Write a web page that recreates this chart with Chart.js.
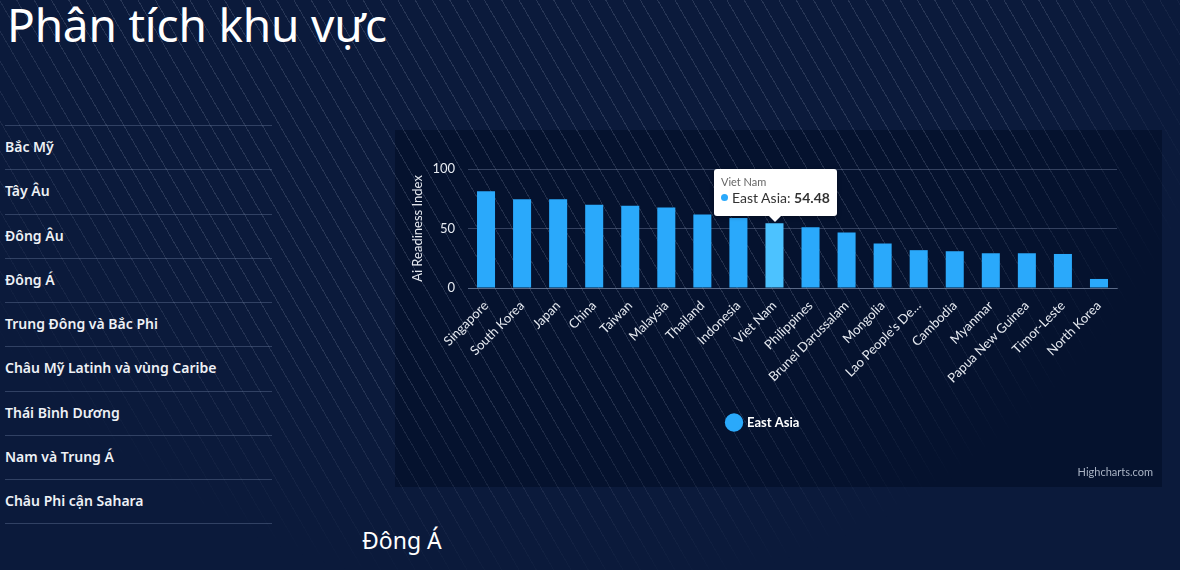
<!DOCTYPE html>
<html lang="vi">
<head>
<meta charset="utf-8">
<script src="https://cdn.jsdelivr.net/npm/chart.js@4.4.1/dist/chart.umd.min.js"></script>
<style>
  html, body { margin:0; padding:0; }
  body {
    width:1180px; height:570px; overflow:hidden; position:relative;
    background-color:#0b1a3b;
    font-family:"Noto Sans", sans-serif; color:#fff;
  }
  .deco {
    position:absolute; left:0; top:0; width:1180px; height:570px;
    background-image: repeating-linear-gradient(60deg, rgba(255,255,255,0) 0px, rgba(255,255,255,0) 14px, rgba(200,210,235,0.15) 14px, rgba(200,210,235,0.15) 15px);
    -webkit-mask-image: radial-gradient(ellipse 700px 650px at 550px -50px, #000 70%, rgba(0,0,0,0) 100%);
    mask-image: radial-gradient(ellipse 700px 650px at 550px -50px, #000 70%, rgba(0,0,0,0) 100%);
    pointer-events:none;
  }
  h1 {
    position:absolute; left:7px; top:-7px; margin:0;
    font-family:"Noto Sans", sans-serif; font-weight:400; font-size:46px; color:#fff;
    letter-spacing:-0.2px;
  }
  ul.menu { position:absolute; left:5px; top:125px; width:267px; margin:0; padding:0; list-style:none; }
  ul.menu li {
    height:44.3px; line-height:41px; border-top:1px solid rgba(120,140,175,0.35);
    font-size:14px; font-weight:600; color:#eef1f6; box-sizing:border-box;
  }
  ul.menu li:last-child { border-bottom:1px solid rgba(120,140,175,0.35); }
  .region { position:absolute; left:362px; top:524px; font-size:23px; color:#fff; }
  .chartbg { position:absolute; left:395px; top:130px; width:767px; height:357px; background:rgba(0,10,34,0.5); }
  .chartbox { position:absolute; left:395px; top:130px; width:767px; height:357px; }
  .credits { position:absolute; right:27px; top:465px; font-family:Lato, sans-serif; font-size:11px; color:#a9b3c4; }
  #tip {
    position:absolute; background:#fff; border-radius:3px; padding:6px 7px 9px 7px;
    box-shadow:0 1px 4px rgba(0,0,0,0.35); white-space:nowrap; font-family:Lato, sans-serif; display:none;
  }
  #tip .t { font-size:11px; color:#666; line-height:14px; }
  #tip .b { font-size:14px; color:#333; line-height:18px; }
  #tip .dot { display:inline-block; width:7px; height:7px; border-radius:50%; background:#2aa9fb; margin-right:4px; vertical-align:2px; }
  #tip:after {
    content:""; position:absolute; left:50%; bottom:-6px; margin-left:-6px;
    border-left:6px solid transparent; border-right:6px solid transparent; border-top:6px solid #fff;
  }
</style>
</head>
<body>
<div class="chartbg"></div>
<div class="deco"></div>
<h1>Phân tích khu vực</h1>
<ul class="menu">
  <li>Bắc Mỹ</li>
  <li>Tây Âu</li>
  <li>Đông Âu</li>
  <li>Đông Á</li>
  <li>Trung Đông và Bắc Phi</li>
  <li>Châu Mỹ Latinh và vùng Caribe</li>
  <li>Thái Bình Dương</li>
  <li>Nam và Trung Á</li>
  <li>Châu Phi cận Sahara</li>
</ul>
<div class="region">Đông Á</div>
<div class="chartbox"><canvas id="c" width="767" height="357"></canvas></div>
<div class="credits">Highcharts.com</div>
<div id="tip"></div>
<script>
const categories = ["Singapore","South Korea","Japan","China","Taiwan","Malaysia","Thailand","Indonesia","Viet Nam","Philippines","Brunei Darussalam","Mongolia","Lao People's Democratic Republic","Cambodia","Myanmar","Papua New Guinea","Timor-Leste","North Korea"];
const eastAsia = [81.2, 74.5, 74.5, 69.9, 69.1, 67.7, 61.8, 58.9, 54.48, 51.1, 46.7, 37.4, 31.8, 30.9, 29.2, 29.2, 28.6, 7.6];
const seriesName = "East Asia";
const yTicks = [0, 50, 100];
const yTitle = "Ai Readiness Index";
const highlightIndex = 8;

const BAR = "#2aa9fb", BAR_HOVER = "#4cc2ff";
const labelFont = "Lato, 'Noto Sans', sans-serif";

function externalTip(ctx) {
  const t = ctx.tooltip, el = document.getElementById('tip');
  if (t.opacity === 0 || !t.dataPoints || !t.dataPoints.length) { el.style.display = 'none'; return; }
  const dp = t.dataPoints[0];
  el.innerHTML = '<div class="t">' + dp.label + '</div><div class="b"><span class="dot"></span>' +
    dp.dataset.label + ': <b>' + dp.formattedValue + '</b></div>';
  el.style.display = 'block';
  const box = ctx.chart.canvas.getBoundingClientRect();
  const w = el.offsetWidth, h = el.offsetHeight;
  el.style.left = (box.left + t.caretX - w / 2 + 1) + 'px';
  el.style.top = (box.top + t.caretY - h - 7) + 'px';
}

const chart = new Chart(document.getElementById('c'), {
  type: 'bar',
  data: {
    labels: categories,
    datasets: [{
      label: seriesName,
      data: eastAsia,
      backgroundColor: BAR,
      hoverBackgroundColor: BAR_HOVER,
      borderWidth: 0,
      categoryPercentage: 1,
      barPercentage: 0.5
    }]
  },
  options: {
    responsive: false,
    animation: false,
    layout: { padding: { left: 15, right: 45, top: 39, bottom: 48 } },
    plugins: {
      legend: {
        position: 'bottom',
        labels: {
          usePointStyle: true, pointStyle: 'circle', boxWidth: 13, boxHeight: 13,
          color: '#ffffff', font: { family: labelFont, size: 13, weight: 'bold' }, padding: 10
        }
      },
      tooltip: {
        enabled: false,
        external: externalTip,
        yAlign: 'bottom'
      }
    },
    scales: {
      x: {
        grid: { display: false },
        border: { display: true, color: 'rgba(140,155,185,0.45)' },
        ticks: {
          color: '#e6eaf1', font: { family: labelFont, size: 13 },
          minRotation: 45, maxRotation: 45, autoSkip: false, padding: 2,
          callback: function (v) {
            const s = this.getLabelForValue(v);
            return s.length > 20 ? s.slice(0, 15) + '…' : s;
          }
        },
        afterFit: (s) => { s.height = 118; }
      },
      y: {
        min: 0, max: 100,
        afterBuildTicks: (s) => { s.ticks = yTicks.map(v => ({ value: v })); },
        grid: { color: 'rgba(140,155,185,0.35)', drawTicks: false },
        border: { display: false },
        ticks: { color: '#e6eaf1', font: { family: labelFont, size: 13 }, padding: 13 },
        title: { display: true, text: yTitle, color: '#e6eaf1', font: { family: labelFont, size: 13 }, padding: { top: 0, bottom: 4 } },
        afterFit: (s) => { s.width = 58; }
      }
    }
  }
});

chart.setActiveElements([{ datasetIndex: 0, index: highlightIndex }]);
chart.tooltip.setActiveElements([{ datasetIndex: 0, index: highlightIndex }], { x: 0, y: 0 });
chart.update('none');
</script>
</body>
</html>
